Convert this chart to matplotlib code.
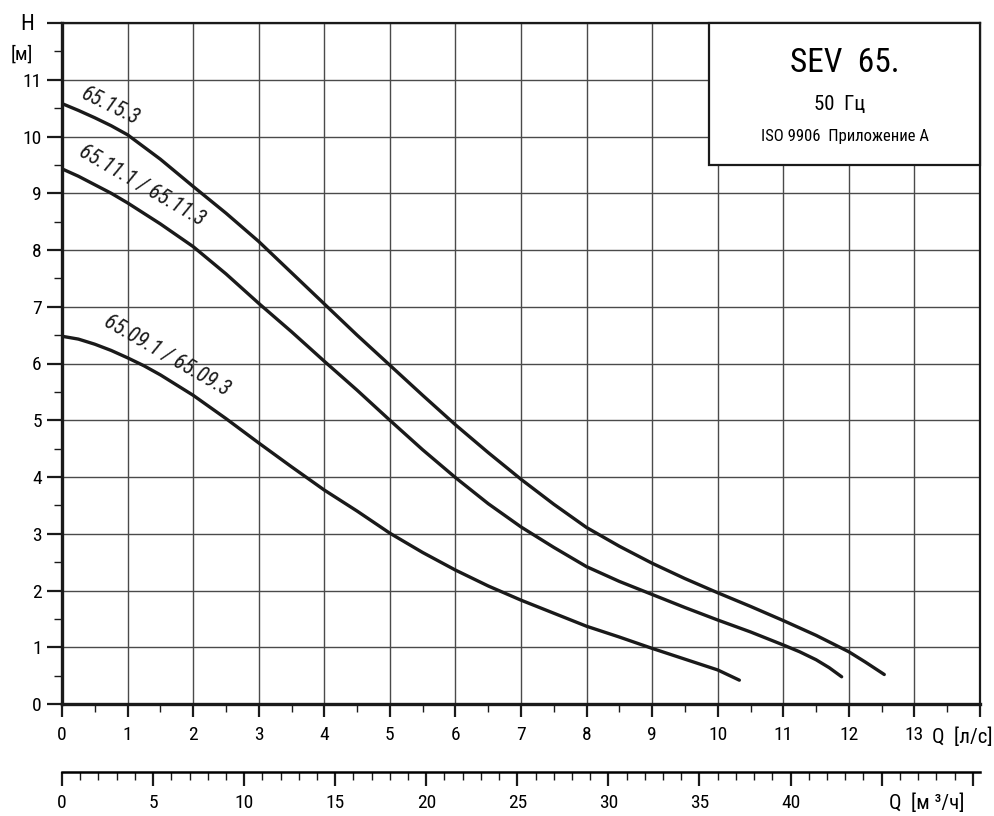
import numpy as np
import matplotlib.pyplot as plt
from matplotlib import font_manager
from matplotlib.patches import Rectangle
from matplotlib.ticker import FixedLocator, MultipleLocator, FuncFormatter

# prefer a condensed face if one is installed
names = {f.name for f in font_manager.fontManager.ttflist}
narrow = [n for n in ['Liberation Sans Narrow', 'Roboto Condensed', 'DejaVu Sans Condensed']
          if n in names]
plt.rcParams['font.family'] = narrow[:1] + ['Liberation Sans', 'DejaVu Sans']

# -------------------------------
# Pump curves  Q [l/s] -> H [m]
q_15 = [0, 0.25, 0.5, 0.75, 1, 1.5, 2, 2.5, 3, 3.5, 4, 4.5, 5, 5.5, 6, 6.5, 7, 7.5, 8, 8.5,
        9, 9.5, 10, 10.5, 11, 11.5, 12, 12.25, 12.54]
h_15 = [10.58, 10.46, 10.33, 10.19, 10.03, 9.6, 9.12, 8.65, 8.15, 7.6, 7.05, 6.5, 5.97, 5.44,
        4.92, 4.43, 3.96, 3.52, 3.11, 2.78, 2.48, 2.21, 1.96, 1.72, 1.47, 1.21, 0.92, 0.74, 0.52]

q_11 = [0, 0.25, 0.5, 0.75, 1, 1.5, 2, 2.5, 3, 3.5, 4, 4.5, 5, 5.5, 6, 6.5, 7, 7.5, 8, 8.5,
        9, 9.5, 10, 10.5, 11, 11.25, 11.5, 11.7, 11.89]
h_11 = [9.43, 9.30, 9.15, 9.0, 8.83, 8.46, 8.06, 7.58, 7.06, 6.56, 6.04, 5.53, 5.0, 4.48, 3.99,
        3.53, 3.12, 2.76, 2.42, 2.16, 1.93, 1.70, 1.48, 1.27, 1.04, 0.92, 0.78, 0.64, 0.48]

q_09 = [0, 0.25, 0.5, 0.75, 1, 1.25, 1.5, 2, 2.5, 3, 3.5, 4, 4.5, 5, 5.5, 6, 6.5, 7, 7.5, 8,
        8.5, 9, 9.5, 10, 10.33]
h_09 = [6.48, 6.43, 6.34, 6.23, 6.10, 5.96, 5.80, 5.44, 5.03, 4.60, 4.18, 3.77, 3.40, 3.01,
        2.67, 2.36, 2.08, 1.83, 1.60, 1.37, 1.18, 0.98, 0.79, 0.60, 0.42]

curve_names = ['65.15.3', '65.11.1 / 65.11.3', '65.09.1 / 65.09.3']
label_pos = [(0.74, 10.53, -26), (1.22, 9.13, -30), (1.6, 6.14, -30)]

x_ticks = list(range(0, 15))
x_labels = [str(v) for v in range(0, 14)] + ['']
y_ticks = list(range(0, 13))
y_labels = [str(v) for v in range(0, 12)] + ['']

# -------------------------------
W, H = 994, 816
fig = plt.figure(figsize=(W / 100, H / 100), dpi=100)
ax = fig.add_axes([62 / W, 1 - 704 / H, (980 - 62) / W, (704 - 23) / H])

ax.set_xlim(0, 14)
ax.set_ylim(0, 12)
ax.grid(True, color='#4a4a4a', lw=1.0)
ax.set_axisbelow(True)

for q, h in [(q_15, h_15), (q_11, h_11), (q_09, h_09)]:
    ax.plot(q, h, color='#1a1a1a', lw=2.4, solid_capstyle='round', solid_joinstyle='round',
            zorder=3)

for name, (x, y, rot) in zip(curve_names, label_pos):
    ax.text(x, y, name, rotation=rot, ha='center', va='center', fontsize=15.5,
            style='italic', color='#1a1a1a', rotation_mode='anchor', zorder=4)

ax.xaxis.set_major_locator(FixedLocator(x_ticks))
ax.set_xticklabels(x_labels)
ax.xaxis.set_minor_locator(MultipleLocator(0.5))
ax.yaxis.set_major_locator(FixedLocator(y_ticks))
ax.set_yticklabels(y_labels)
ax.yaxis.set_minor_locator(MultipleLocator(0.5))
ax.tick_params(axis='x', which='major', direction='out', length=9.5, width=1.6, pad=6,
               labelsize=14, color='#1a1a1a')
ax.tick_params(axis='x', which='minor', direction='out', length=5.5, width=1.0, color='#1a1a1a')
ax.tick_params(axis='y', which='major', direction='out', length=10.5, width=1.6, pad=4,
               labelsize=14, color='#1a1a1a')
ax.tick_params(axis='y', which='minor', direction='out', length=5.5, width=1.0, color='#1a1a1a')

ax.spines['left'].set_linewidth(2.4)
ax.spines['bottom'].set_linewidth(2.4)
ax.spines['top'].set_linewidth(1.6)
ax.spines['right'].set_linewidth(1.6)
for s in ax.spines.values():
    s.set_color('#1a1a1a')

# info box
ax.add_patch(Rectangle((9.86, 9.5), 14 - 9.86, 2.5, facecolor='white', edgecolor='#1a1a1a',
                       lw=1.6, zorder=5, clip_on=False))
ax.text(11.94, 11.3, 'SEV  65.', ha='center', va='center', fontsize=24, zorder=6)
ax.text(11.86, 10.56, '50  Гц', ha='center', va='center', fontsize=15, zorder=6)
ax.text(11.94, 10.0, 'ISO 9906  Приложение A', ha='center', va='center', fontsize=12, zorder=6)

# second flow scale in m3/h
sec = ax.secondary_xaxis(-0.0994, functions=(lambda q: q * 3.6, lambda m: m / 3.6))
sec.xaxis.set_major_locator(FixedLocator(list(range(0, 51, 5))))
sec.xaxis.set_minor_locator(MultipleLocator(1))
sec.xaxis.set_major_formatter(FuncFormatter(lambda v, p: '' if v > 40 else '%d' % v))
sec.tick_params(which='major', direction='out', length=10, width=1.6, pad=6, labelsize=14,
                color='#1a1a1a')
sec.tick_params(which='minor', direction='out', length=5.5, width=1.0, color='#1a1a1a')
sec.spines['bottom'].set_linewidth(1.8)

# axis captions
fig.text(27 / W, 1 - 25 / H, 'H', ha='center', va='center', fontsize=16)
fig.text(22 / W, 1 - 55 / H, '[м]', ha='center', va='center', fontsize=14)
fig.text(962 / W, 1 - 737 / H, 'Q  [л/с]', ha='center', va='center', fontsize=15)
fig.text(927 / W, 1 - 803 / H, 'Q  [м ³/ч]', ha='center', va='center', fontsize=15)

fig.savefig('out.png', dpi=100)
